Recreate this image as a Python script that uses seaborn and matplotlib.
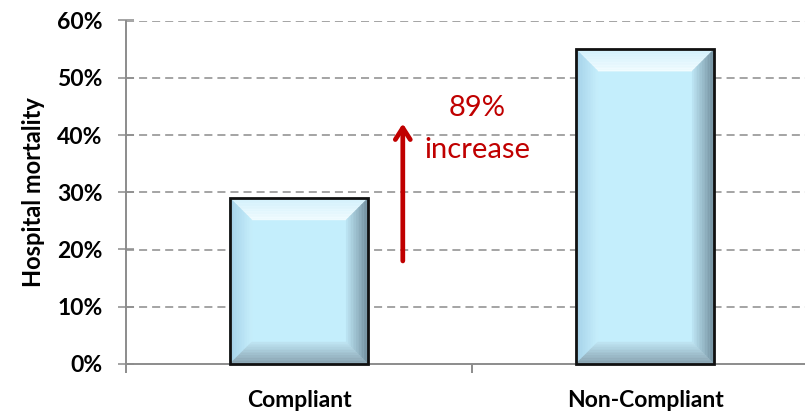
import numpy as np
import pandas as pd
import matplotlib
matplotlib.use("Agg")
import matplotlib.pyplot as plt
from matplotlib.patches import Polygon
from matplotlib.colors import to_rgb
from matplotlib.ticker import FuncFormatter, MultipleLocator, FixedLocator
import seaborn as sns

# Data
categories = ["Compliant", "Non-Compliant"]
mortality = [0.29, 0.55]
increase_label = "89%\nincrease"
arrow_from, arrow_to = 0.18, 0.42

sns.set_theme(style="white")
plt.rcParams["font.family"] = ["Lato", "DejaVu Sans"]
plt.rcParams["lines.scale_dashes"] = False

df = pd.DataFrame({"group": categories, "rate": mortality})

fig = plt.figure(figsize=(8.05, 4.12), dpi=100)
ax = fig.add_axes([126 / 805, 1 - 364 / 412, (805 - 126) / 805, (364 - 20.5) / 412])

FACE = "#C4EEFC"
sns.barplot(data=df, x="group", y="rate", ax=ax, color=FACE, width=0.4,
            saturation=1, edgecolor="none", linewidth=0, zorder=3)

ax.set_xlim(-0.5, (805 - 299) / 346)
ax.set_ylim(0, 0.6)

# Grid
grid_color = "#8C8C8C"
for yv in np.arange(0.1, 0.61, 0.1):
    ax.axhline(yv, color=grid_color, lw=1.1, ls=(0, (5.8, 3.6)), zorder=1)

# Spines
for s in ["top", "right"]:
    ax.spines[s].set_visible(False)
for s in ["left", "bottom"]:
    ax.spines[s].set_color(grid_color)
    ax.spines[s].set_linewidth(1.4)
    ax.spines[s].set_zorder(2)

ax.yaxis.set_major_locator(MultipleLocator(0.1))
ax.yaxis.set_major_formatter(FuncFormatter(lambda v, p: f"{v * 100:.0f}%"))
ax.tick_params(axis="y", direction="inout", length=11.5, width=1.1, color=grid_color,
               labelsize=16.5, pad=11, left=True)
ax.xaxis.set_minor_locator(FixedLocator([-0.5, 0.5, 1.5]))
ax.tick_params(axis="x", which="major", length=0, labelsize=16.5, pad=19)
ax.tick_params(axis="x", which="minor", direction="out", length=6.5, width=1.4,
               color=grid_color, bottom=True)
for lab in ax.get_yticklabels() + ax.get_xticklabels():
    lab.set_fontweight("bold")
    lab.set_color("black")

ax.set_xlabel("")
ax.set_ylabel("Hospital mortality", fontsize=17, fontweight="bold", color="black", labelpad=9)

# Bevelled bar faces, built in display space from each bar's geometry
fig.canvas.draw()
bev = 22.0
nband = 14


def lerp(c1, c2, t):
    a, b = np.array(to_rgb(c1)), np.array(to_rgb(c2))
    return tuple(a + (b - a) * t)


for patch in ax.patches:
    x0, y0 = patch.get_x(), patch.get_y()
    x1, y1 = x0 + patch.get_width(), y0 + patch.get_height()
    (X0, Y0), (X1, Y1) = ax.transData.transform([(x0, y0), (x1, y1)])
    # outer corners and inner corners (display coords, y upward)
    outer = {"bl": (X0, Y0), "br": (X1, Y0), "tr": (X1, Y1), "tl": (X0, Y1)}
    inner = {"bl": (X0 + bev, Y0 + bev), "br": (X1 - bev, Y0 + bev),
             "tr": (X1 - bev, Y1 - bev), "tl": (X0 + bev, Y1 - bev)}
    sides = [
        ("tl", "tr", "#D3F1FC", "#F2FCFF"),   # top
        ("bl", "tl", "#A3D0E8", "#C6EEFB"),   # left
        ("tr", "br", "#6E8A99", "#BDE5F4"),   # right
        ("br", "bl", "#849DAB", "#BFE5F3"),   # bottom
    ]
    for a, b, c_out, c_in in sides:
        oa, ob = np.array(outer[a]), np.array(outer[b])
        ia, ib = np.array(inner[a]), np.array(inner[b])
        for k in range(nband):
            t0, t1 = k / nband, (k + 1) / nband
            pts = [oa + (ia - oa) * t0, ob + (ib - ob) * t0,
                   ob + (ib - ob) * t1, oa + (ia - oa) * t1]
            col = lerp(c_out, c_in, (k + 0.5) / nband)
            poly = Polygon(pts, closed=True, transform=None, facecolor=col,
                           edgecolor=col, linewidth=0.3, zorder=4)
            poly.set_clip_on(False)
            fig.add_artist(poly)
    outline = Polygon([outer["bl"], outer["br"], outer["tr"], outer["tl"]], closed=True,
                      transform=None, facecolor="none", edgecolor="#111111",
                      linewidth=2.0, zorder=5)
    fig.add_artist(outline)

# Increase arrow and annotation
ax.annotate("", xy=(0.30, arrow_to), xytext=(0.30, arrow_from),
            arrowprops=dict(arrowstyle="->,head_length=0.7,head_width=0.45",
                            color="#C00000", lw=3.4, shrinkA=0, shrinkB=0), zorder=6)
ax.text(0.515, 0.41, increase_label, ha="center", va="center", color="#C00000",
        fontsize=21, linespacing=1.75, zorder=6)

fig.savefig("out.png", dpi=100)
